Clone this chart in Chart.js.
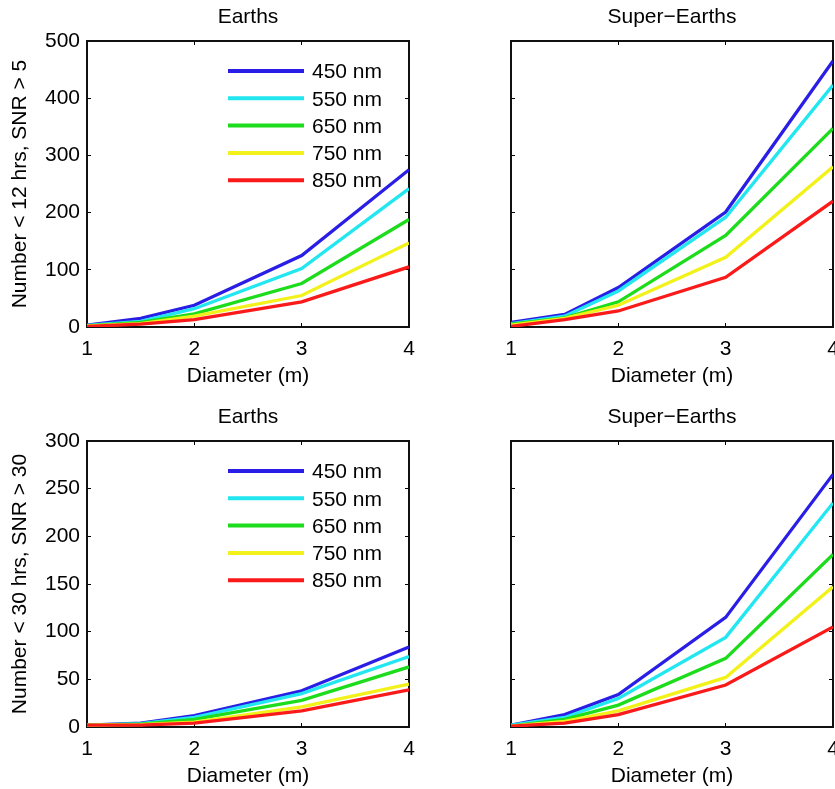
<!DOCTYPE html>
<html>
<head>
<meta charset="utf-8">
<script src="https://cdn.jsdelivr.net/npm/chart.js@4.4.1/dist/chart.umd.min.js"></script>
<style>
  html, body { margin: 0; padding: 0; background: #fff; overflow: hidden; }
  canvas { position: absolute; }
</style>
</head>
<body>
<canvas id="c1" width="417" height="389" style="left:0px;top:0px"></canvas>
<canvas id="c2" width="415" height="389" style="left:420px;top:0px"></canvas>
<canvas id="c3" width="417" height="389" style="left:0px;top:400px"></canvas>
<canvas id="c4" width="415" height="389" style="left:420px;top:400px"></canvas>
<script>
// telescope diameters (m)
const diameters = [1, 1.5, 2, 3, 4];
const wavelengths = ['450 nm', '550 nm', '650 nm', '750 nm', '850 nm'];

// Number < 12 hrs, SNR > 5
const earths12 = [
  [3, 15, 38, 125, 275],
  [3, 10, 32, 102, 242],
  [2, 8, 23, 76, 188],
  [2, 6, 19, 55, 147],
  [1, 5, 13, 44, 105]
];
const superEarths12 = [
  [8, 22, 69, 201, 465],
  [6, 19, 63, 192, 423],
  [5, 16, 44, 160, 347],
  [3, 15, 38, 122, 280],
  [1, 13, 28, 87, 220]
];

// Number < 30 hrs, SNR > 30
const earths30 = [
  [2, 4, 12, 38, 84],
  [2, 3.5, 10, 35, 74],
  [2, 3, 8, 28, 63],
  [2, 2.5, 5, 21, 45],
  [2, 2, 4, 17, 39]
];
const superEarths30 = [
  [2, 13, 34, 115, 265],
  [2, 10, 30, 94, 235],
  [1, 8, 23, 72, 181],
  [1, 6, 17, 52, 147],
  [1, 4, 13, 44, 105]
];

const lineColors = ['#2a1ee6', '#22e6f0', '#1cdc1c', '#f2f21a', '#fa1a1a'];

Chart.defaults.font.family = "'Liberation Sans', Arial, sans-serif";
Chart.defaults.font.size = 21;
Chart.defaults.color = '#000';

// legend drawn inside the plot box, matlab style
const insideLegend = {
  id: 'insideLegend',
  afterDatasetsDraw(chart) {
    const ctx = chart.ctx;
    const a = chart.chartArea;
    ctx.save();
    ctx.font = "21px 'Liberation Sans', Arial, sans-serif";
    ctx.textBaseline = 'middle';
    ctx.textAlign = 'left';
    chart.data.datasets.forEach((ds, i) => {
      const y = a.top + 30 + i * 27.3;
      ctx.strokeStyle = ds.borderColor;
      ctx.lineWidth = 4;
      ctx.beginPath();
      ctx.moveTo(a.left + 141, y);
      ctx.lineTo(a.left + 217, y);
      ctx.stroke();
      ctx.fillStyle = '#000';
      ctx.fillText(ds.label, a.left + 225, y + 1.5);
    });
    ctx.restore();
  }
};

function boxGrid() {
  return { drawOnChartArea: false, drawTicks: true, tickLength: -4, color: '#000', lineWidth: 1 };
}
const boxBorder = { display: true, color: '#111', width: 2 };

function makeChart(id, title, series, yMax, yStep, yTitle, withLegend) {
  const yWidth = yTitle ? 87 : 91;
  const datasets = series.map((vals, i) => ({
    label: wavelengths[i],
    data: diameters.map((d, j) => ({ x: d, y: vals[j] })),
    borderColor: lineColors[i],
    backgroundColor: lineColors[i],
    borderWidth: 3.3,
    pointRadius: 0,
    tension: 0,
    fill: false,
    order: 5 - i
  }));
  new Chart(document.getElementById(id), {
    type: 'line',
    data: { datasets: datasets },
    options: {
      responsive: false,
      animation: false,
      events: [],
      layout: { padding: { left: 0, right: yTitle ? 8 : 2, top: 0, bottom: 0 } },
      plugins: {
        legend: { display: false },
        tooltip: { enabled: false },
        title: {
          display: true,
          text: title,
          fullSize: false,
          color: '#000',
          font: { size: 21, weight: 'normal' },
          padding: { top: 5, bottom: 10.8 }
        }
      },
      scales: {
        x: {
          type: 'linear',
          min: 1,
          max: 4,
          grid: boxGrid(),
          border: boxBorder,
          ticks: { stepSize: 1, padding: 14, color: '#000', callback: v => v },
          title: { display: true, text: 'Diameter (m)', color: '#000', padding: { top: 0, bottom: 0 } },
          afterFit(s) { s.height = 62; s.paddingLeft = 0; s.paddingRight = 0; }
        },
        y: {
          type: 'linear',
          min: 0,
          max: yMax,
          grid: boxGrid(),
          border: boxBorder,
          ticks: { stepSize: yStep, padding: 11, color: '#000', display: !!yTitle },
          title: { display: !!yTitle, text: yTitle || '', color: '#000', padding: { top: 7.4, bottom: 0 } },
          afterFit(s) { s.width = yWidth; s.paddingTop = 0; s.paddingBottom = 0; }
        },
        x2: {
          type: 'linear',
          axis: 'x',
          position: 'top',
          min: 1,
          max: 4,
          grid: boxGrid(),
          border: boxBorder,
          ticks: { stepSize: 1, display: false },
          afterFit(s) { s.height = 0; s.paddingLeft = 0; s.paddingRight = 0; }
        },
        y2: {
          type: 'linear',
          axis: 'y',
          position: 'right',
          min: 0,
          max: yMax,
          grid: boxGrid(),
          border: boxBorder,
          ticks: { stepSize: yStep, display: false },
          afterFit(s) { s.width = 0; s.paddingTop = 0; s.paddingBottom = 0; }
        }
      }
    },
    plugins: withLegend ? [insideLegend] : []
  });
}

makeChart('c1', 'Earths', earths12, 500, 100, 'Number < 12 hrs, SNR > 5', true);
makeChart('c2', 'Super\u2212Earths', superEarths12, 500, 100, null, false);
makeChart('c3', 'Earths', earths30, 300, 50, 'Number < 30 hrs, SNR > 30', true);
makeChart('c4', 'Super\u2212Earths', superEarths30, 300, 50, null, false);
</script>
</body>
</html>
